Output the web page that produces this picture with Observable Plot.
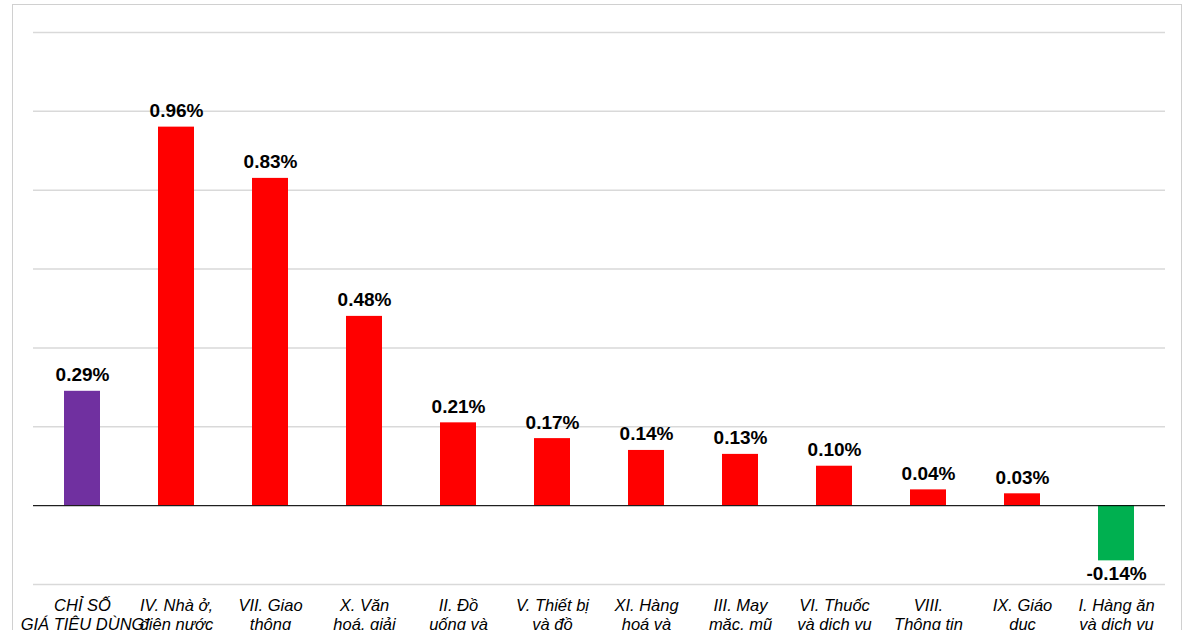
<!DOCTYPE html>
<html><head><meta charset="utf-8">
<script src="https://cdn.jsdelivr.net/npm/d3@7"></script>
<script src="https://cdn.jsdelivr.net/npm/@observablehq/plot@0.6"></script>
<style>
body{margin:0;background:#fff;overflow:hidden}
#frame{position:absolute;left:12px;top:4px;width:1168px;height:700px;border:1px solid #d0d0d0;}
#chart{position:absolute;left:0;top:0}
</style></head><body>
<div id="frame"></div><div id="chart"></div>
<script>
const categories = ["CHỈ SỐ\nGIÁ TIÊU DÙNG","IV. Nhà ở,\nđiện nước","VII. Giao\nthông","X. Văn\nhoá, giải","II. Đồ\nuống và","V. Thiết bị\nvà đồ","XI. Hàng\nhoá và","III. May\nmặc, mũ","VI. Thuốc\nvà dịch vụ","VIII.\nThông tin","IX. Giáo\ndục","I. Hàng ăn\nvà dịch vụ"];
const values = [0.29,0.96,0.83,0.48,0.21,0.17,0.14,0.13,0.10,0.04,0.03,-0.14];
const colors = ["#7030a0","#ff0000","#ff0000","#ff0000","#ff0000","#ff0000","#ff0000","#ff0000","#ff0000","#ff0000","#ff0000","#00b050"];
const yTicks = [-0.2,0,0.2,0.4,0.6,0.8,1.0,1.2];
const data = categories.map((c,i)=>({c,v:values[i],col:colors[i]}));
const pos = data.filter(d=>d.v>=0), neg = data.filter(d=>d.v<0);
const fmt = d=>d.v.toFixed(2)+"%";
const chart = Plot.plot({
  width:1200, height:690,
  marginLeft:33, marginRight:35, marginTop:32, marginBottom:106,
  style:{fontFamily:"Liberation Sans, Arial, sans-serif"},
  x:{domain:categories, paddingInner:0.62, paddingOuter:0.3, axis:null},
  y:{domain:[-0.2,1.2], axis:null},
  marks:[
    Plot.ruleY(yTicks,{stroke:"#d9d9d9",strokeWidth:1.5}),
    Plot.barY(data,{x:"c",y:"v",fill:"col"}),
    Plot.ruleY([0],{stroke:"#000",strokeWidth:1}),
    Plot.text(pos,{x:"c",y:"v",text:fmt,lineAnchor:"bottom",dy:-10,fontSize:19,fontWeight:"bold",fill:"#000"}),
    Plot.text(neg,{x:"c",y:"v",text:fmt,lineAnchor:"top",dy:6,fontSize:19,fontWeight:"bold",fill:"#000"}),
    Plot.text(data,{x:"c",y:-0.2,text:"c",lineAnchor:"top",dy:12,fontSize:16.5,fontStyle:"italic",fill:"#000",lineHeight:1.2})
  ]
});
document.getElementById("chart").append(chart);
</script></body></html>
